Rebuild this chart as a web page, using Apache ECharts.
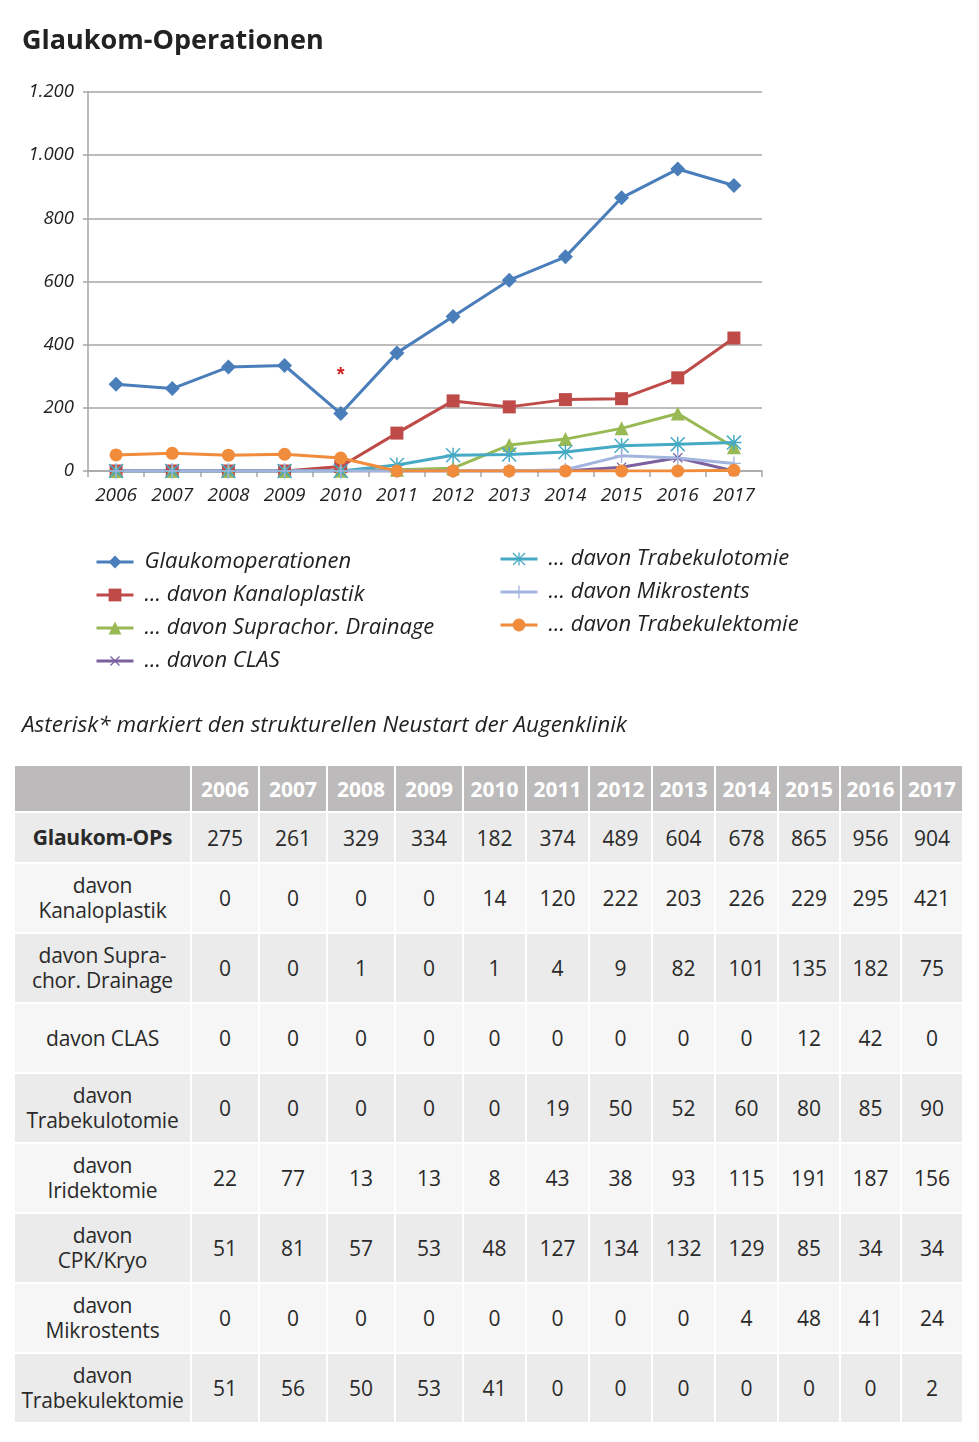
<!DOCTYPE html>
<html>
<head>
<meta charset="utf-8">
<script src="https://cdn.jsdelivr.net/npm/echarts@6/dist/echarts.min.js"></script>
<style>
  html, body { margin: 0; padding: 0; background: #fff; }
  #chart { position: absolute; left: 0; top: 0; width: 979px; height: 760px; }
  #tbl { position: absolute; left: 13px; top: 764px; width: 950px; border-collapse: collapse;
         font-family: "Open Sans", "Noto Sans", sans-serif; color: #2a2a2a; table-layout: fixed; }
  #tbl td, #tbl th { border: 2px solid #fff; text-align: center; padding: 0; font-size: 21px; }
  #tbl th { background: #bcbaba; color: #fff; font-weight: 700; height: 45px; font-size: 21px; }
  #tbl td.lbl { line-height: 25px; letter-spacing: -0.2px; }
  #tbl tr.r0 td { background: #ebebeb; }
  #tbl tr.r1 td { background: #f6f6f6; }
</style>
</head>
<body>
<div id="chart"></div>
<table id="tbl"></table>
<script>
// ---- data ----
const years = ['2006','2007','2008','2009','2010','2011','2012','2013','2014','2015','2016','2017'];
const glaukomOps        = [275,261,329,334,182,374,489,604,678,865,956,904];
const kanaloplastik     = [0,0,0,0,14,120,222,203,226,229,295,421];
const suprachorDrainage = [0,0,1,0,1,4,9,82,101,135,182,75];
const clas              = [0,0,0,0,0,0,0,0,0,12,42,0];
const trabekulotomie    = [0,0,0,0,0,19,50,52,60,80,85,90];
const iridektomie       = [22,77,13,13,8,43,38,93,115,191,187,156];
const cpkKryo           = [51,81,57,53,48,127,134,132,129,85,34,34];
const mikrostents       = [0,0,0,0,0,0,0,0,4,48,41,24];
const trabekulektomie   = [51,56,50,53,41,0,0,0,0,0,0,2];
const yMax = 1200, yStep = 200;
const asteriskAt = ['2010', 315];

const legendNames = ['Glaukomoperationen', '... davon Kanaloplastik', '... davon Suprachor. Drainage',
  '... davon CLAS', '... davon Trabekulotomie', '... davon Mikrostents', '... davon Trabekulektomie'];
const tableLabels = ['Glaukom-OPs', 'davon<br>Kanaloplastik', 'davon Supra-<br>chor. Drainage', 'davon CLAS',
  'davon<br>Trabekulotomie', 'davon<br>Iridektomie', 'davon<br>CPK/Kryo', 'davon<br>Mikrostents', 'davon<br>Trabekulektomie'];
const tableRows = [glaukomOps, kanaloplastik, suprachorDrainage, clas, trabekulotomie, iridektomie, cpkKryo, mikrostents, trabekulektomie];

// ---- table ----
(function(){
  const t = document.getElementById('tbl');
  let h = '<colgroup><col style="width:177px">';
  const cw = [68,68,68,68,63,63,63,63,63,62,61,62];
  cw.forEach(w => h += '<col style="width:' + w + 'px">');
  h += '</colgroup><tr><th></th>' + years.map(y => '<th>' + y + '</th>').join('') + '</tr>';
  tableRows.forEach((row, i) => {
    const ht = i === 0 ? 49 : 68;
    h += '<tr class="r' + (i % 2 === 0 ? 0 : 1) + '"><td class="lbl" style="height:' + ht + 'px;' + (i === 0 ? 'font-weight:700;' : '') + '">' + tableLabels[i] + '</td>' +
      row.map(v => '<td>' + v + '</td>').join('') + '</tr>';
  });
  t.innerHTML = h;
})();

// ---- chart ----
const FONT = '"Open Sans", "Noto Sans", sans-serif';
const plusPath = 'path://M9,0H11V9H20V11H11V20H9V11H0V9H9Z';
const astPath = 'path://M0,9H20V11H0Z M9,0H11V20H9Z M1.4,0L20,18.6L18.6,20L0,1.4Z M18.6,0L20,1.4L1.4,20L0,18.6Z';

function mkSeries(name, data, color, symbol, size, extra) {
  return Object.assign({
    name: name, type: 'line', data: data, symbol: symbol, symbolSize: size,
    lineStyle: { color: color, width: 3 },
    itemStyle: { color: color },
    emphasis: { disabled: true }
  }, extra || {});
}

const legendText = { fontFamily: FONT, fontStyle: 'italic', fontSize: 22, color: '#222', padding: [0, 0, 0, 6] };

const chart = echarts.init(document.getElementById('chart'), null, { renderer: 'canvas' });
chart.setOption({
  animation: false,
  title: {
    text: 'Glaukom-Operationen', left: 17, top: 23,
    textStyle: { fontFamily: FONT, fontWeight: 700, fontSize: 27, color: '#222' }
  },
  grid: { left: 88, right: 217, top: 92, bottom: 289, containLabel: false },
  xAxis: {
    type: 'category', data: years, boundaryGap: true,
    axisLine: { lineStyle: { color: '#a6a6a6', width: 1.5 } },
    axisTick: { show: true, length: 6, lineStyle: { color: '#a6a6a6', width: 1.5 } },
    axisLabel: { fontFamily: FONT, fontStyle: 'italic', fontSize: 19, color: '#222', margin: 15 }
  },
  yAxis: {
    type: 'value', min: 0, max: yMax, interval: yStep,
    axisLine: { show: true, lineStyle: { color: '#a6a6a6', width: 1.5 } },
    axisTick: { show: true, length: 5, lineStyle: { color: '#a6a6a6', width: 1.5 } },
    splitLine: { lineStyle: { color: '#a6a6a6', width: 1.5 } },
    axisLabel: {
      fontFamily: FONT, fontStyle: 'italic', fontSize: 18.5, color: '#222', margin: 14, padding: [7, 0, 0, 0],
      formatter: v => v >= 1000 ? (Math.floor(v / 1000) + '.' + String(v % 1000).padStart(3, '0')) : String(v)
    }
  },
  legend: [{
    orient: 'vertical', left: 90, top: 542, itemWidth: 37, itemHeight: 16, itemGap: 3,
    lineStyle: { width: 3 },
    data: legendNames.slice(0, 4),
    textStyle: Object.assign({ lineHeight: 30 }, legendText)
  }, {
    orient: 'vertical', left: 494, top: 539, itemWidth: 37, itemHeight: 16, itemGap: 3,
    lineStyle: { width: 3 },
    data: legendNames.slice(4),
    textStyle: Object.assign({ lineHeight: 30 }, legendText)
  }],
  graphic: [{
    type: 'text', left: 22, top: 714,
    style: { text: 'Asterisk* markiert den strukturellen Neustart der Augenklinik',
             font: 'italic 22.5px ' + FONT, fill: '#222' }
  }],
  series: [
    mkSeries(legendNames[0], glaukomOps, '#4a7ebb', 'diamond', 15, {
      z: 10,
      markPoint: {
        symbol: 'circle', symbolSize: 1, itemStyle: { color: 'rgba(0,0,0,0)' },
        label: { show: true, formatter: '*', color: '#d02020', fontSize: 20, fontWeight: 700, offset: [0, 4] },
        data: [{ coord: asteriskAt }]
      }
    }),
    mkSeries(legendNames[1], kanaloplastik, '#be4b48', 'rect', 13),
    mkSeries(legendNames[2], suprachorDrainage, '#98b954', 'triangle', 14),
    mkSeries(legendNames[3], clas, '#7d60a0', plusPath, 13, { symbolRotate: 45 }),
    mkSeries(legendNames[4], trabekulotomie, '#46aac5', astPath, 15),
    mkSeries(legendNames[5], mikrostents, '#a3b5de', plusPath, 14),
    mkSeries(legendNames[6], trabekulektomie, '#f08c3c', 'circle', 13)
  ]
});
</script>
</body>
</html>
